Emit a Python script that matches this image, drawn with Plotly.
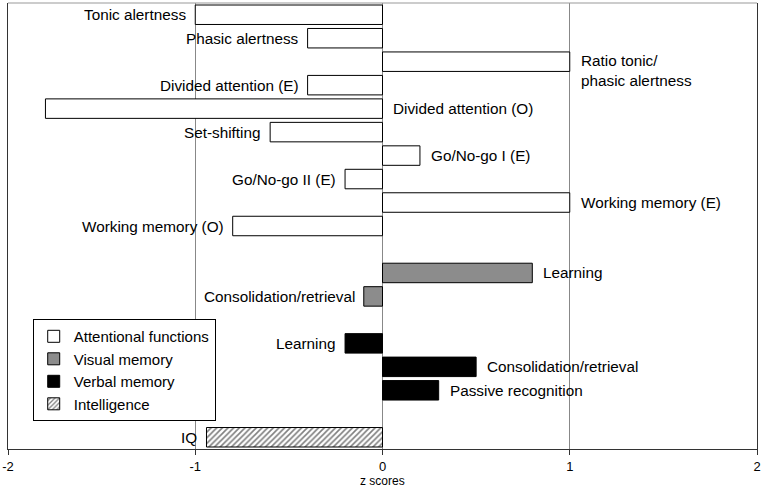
import plotly.graph_objects as go

# ---- data ----
attention_tests = ["Tonic alertness", "Phasic alertness", "Ratio tonic/<br>phasic alertness",
                   "Divided attention (E)", "Divided attention (O)", "Set-shifting",
                   "Go/No-go I (E)", "Go/No-go II (E)", "Working memory (E)", "Working memory (O)"]
attention_z = [-1.0, -0.4, 1.0, -0.4, -1.8, -0.6, 0.2, -0.2, 1.0, -0.8]

visual_tests = ["Learning", "Consolidation/retrieval"]
visual_z = [0.8, -0.1]

verbal_tests = ["Learning", "Consolidation/retrieval", "Passive recognition"]
verbal_z = [-0.2, 0.5, 0.3]

intel_tests = ["IQ"]
intel_z = [-0.94]

x_ticks = [-2, -1, 0, 1, 2]
x_tick_labels = ["-2", "-1", "0", "1", "2"]

FONT = "Liberation Sans, Arial, sans-serif"

groups = [
    ("Attentional functions", attention_tests, attention_z, dict(color="white")),
    ("Visual memory", visual_tests, visual_z, dict(color="#8c8c8c")),
    ("Verbal memory", verbal_tests, verbal_z, dict(color="black")),
    ("Intelligence", intel_tests, intel_z,
     dict(color="white", pattern=dict(shape="/", fgcolor="black", bgcolor="white", size=4, solidity=0.4))),
]

fig = go.Figure()
annotations = []
slot = 0
last_slot = 0
for gi, (gname, tests, zs, marker) in enumerate(groups):
    ys = list(range(slot, slot + len(tests)))
    last_slot = ys[-1]
    slot += len(tests) + 1
    fig.add_trace(go.Bar(
        name=gname, x=zs, y=ys, orientation="h", width=0.83,
        marker=dict(line=dict(color="black", width=1), **marker),
        hoverinfo="skip",
    ))
    for t, z, yv in zip(tests, zs, ys):
        if z < -1.5:
            ax, anchor, shift = 0, "left", 8
        elif z < 0:
            ax, anchor, shift = z, "right", -7
        else:
            ax, anchor, shift = z, "left", 9
        multiline = "<br>" in t
        annotations.append(dict(
            x=ax, y=yv, xref="x", yref="y", text=t, showarrow=False,
            xanchor=anchor, yanchor="middle", xshift=shift,
            yshift=-9 if multiline else 0, align="left",
            font=dict(size=15.3, color="black", family=FONT),
        ))

annotations.append(dict(
    x=0.5, y=0, xref="paper", yref="paper", text="z scores", showarrow=False,
    xanchor="center", yanchor="top", yshift=-23,
    font=dict(size=12, color="black", family=FONT),
))

fig.update_layout(
    width=765, height=488,
    margin=dict(l=8, r=8, t=3, b=39, autoexpand=False),
    plot_bgcolor="white", paper_bgcolor="white",
    barmode="overlay",
    font=dict(family=FONT, color="black"),
    annotations=annotations,
    showlegend=True,
    legend=dict(x=0.033, y=0.177, xanchor="left", yanchor="middle",
                bordercolor="black", borderwidth=1, bgcolor="white",
                font=dict(size=15, family=FONT), tracegroupgap=0, itemwidth=30,
                traceorder="normal"),
    shapes=[dict(type="line", xref="paper", yref="paper", x0=0, x1=1, y0=1, y1=1,
                 line=dict(color="#999999", width=1))],
)
fig.update_xaxes(
    range=[-2, 2], tickvals=x_ticks, ticktext=x_tick_labels, automargin=False,
    showgrid=True, gridcolor="#888888", gridwidth=1,
    zeroline=True, zerolinecolor="#888888", zerolinewidth=1,
    showline=True, linecolor="#333333", linewidth=1,
    ticks="outside", ticklen=5, tickcolor="#333333",
    tickfont=dict(size=13, family=FONT),
)
fig.update_yaxes(
    range=[last_slot + 0.5, -0.5], showticklabels=False, showgrid=False, zeroline=False,
    automargin=False,
    showline=True, linecolor="#333333", linewidth=1, mirror=True, ticks="",
)

fig.write_html("out.html", config={"displayModeBar": False},
               post_script="document.body.style.margin='0';")
